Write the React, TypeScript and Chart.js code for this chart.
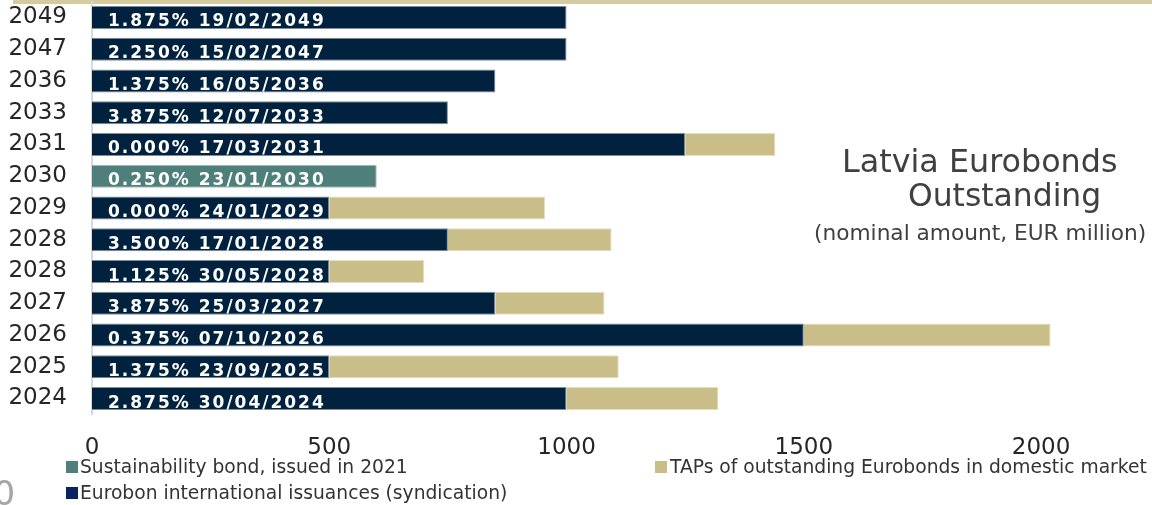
import React, { useEffect, useRef } from 'react';
import { Chart, registerables } from 'chart.js';

Chart.register(...registerables);

const categories = ['2049', '2047', '2036', '2033', '2031', '2030', '2029', '2028', '2028', '2027', '2026', '2025', '2024'];
const couponLabels = [
  '1.875% 19/02/2049',
  '2.250% 15/02/2047',
  '1.375% 16/05/2036',
  '3.875% 12/07/2033',
  '0.000% 17/03/2031',
  '0.250% 23/01/2030',
  '0.000% 24/01/2029',
  '3.500% 17/01/2028',
  '1.125% 30/05/2028',
  '3.875% 25/03/2027',
  '0.375% 07/10/2026',
  '1.375% 23/09/2025',
  '2.875% 30/04/2024',
];
const syndication = [1000, 1000, 850, 750, 1250, null, 500, 750, 500, 850, 1500, 500, 1000];
const sustainability = [null, null, null, null, null, 600, null, null, null, null, null, null, null];
const taps = [null, null, null, null, 190, null, 455, 345, 200, 230, 520, 610, 320];
const xTicks = [0, 500, 1000, 1500, 2000];
const xMin = 0;
const xMax = 2200;

const NAVY = '#00223f';
const TAN = '#c9bd88';
const TEAL = '#4e7f7a';
const FONT = '"DejaVu Sans", Verdana, sans-serif';

const barLabelPlugin = {
  id: 'barLabels',
  afterDatasetsDraw(chart: any) {
    const { ctx, chartArea, scales } = chart;
    ctx.save();
    ctx.font = 'bold 17px "DejaVu Sans"';
    ctx.fillStyle = '#ffffff';
    ctx.textAlign = 'left';
    ctx.textBaseline = 'alphabetic';
    (ctx as any).letterSpacing = '2px';
    couponLabels.forEach((t, i) => {
      const y = scales.y.getPixelForValue(i);
      ctx.fillText(t, chartArea.left + 16, y + 9);
    });
    ctx.restore();
  },
};

export default function App() {
  const canvasRef = useRef<HTMLCanvasElement | null>(null);

  useEffect(() => {
    if (!canvasRef.current) return;
    const chart = new Chart(canvasRef.current, {
      type: 'bar',
      data: {
        labels: categories,
        datasets: [
          {
            label: 'Eurobon international issuances (syndication)',
            data: syndication as any,
            backgroundColor: NAVY,
            borderColor: '#7f8d9c',
            borderWidth: 1,
          },
          {
            label: 'Sustainability bond, issued in 2021',
            data: sustainability as any,
            backgroundColor: TEAL,
            borderColor: '#a5bdb9',
            borderWidth: 1,
          },
          {
            label: 'TAPs of outstanding Eurobonds in domestic market',
            data: taps as any,
            backgroundColor: TAN,
            borderColor: '#e6dfbf',
            borderWidth: 1,
          },
        ],
      },
      options: {
        indexAxis: 'y',
        responsive: false,
        animation: false,
        devicePixelRatio: 1,
        datasets: { bar: { barPercentage: 0.72, categoryPercentage: 1 } } as any,
        layout: { padding: { top: 1.6, right: 16, bottom: 0, left: 0 } },
        plugins: {
          legend: { display: false },
          tooltip: { enabled: false },
          title: { display: false },
        },
        scales: {
          x: {
            stacked: true,
            min: xMin,
            max: xMax,
            grid: { display: false },
            border: { display: false },
            afterBuildTicks: (s: any) => {
              s.ticks = xTicks.map((v) => ({ value: v }));
            },
            ticks: {
              autoSkip: false,
              maxRotation: 0,
              padding: 12,
              color: '#262626',
              font: { family: FONT, size: 23 },
              callback: (v: any) => String(v),
            },
            afterFit: (s: any) => {
              s.height = 45.6;
              s.paddingLeft = 0;
              s.paddingRight = 0;
            },
          },
          y: {
            stacked: true,
            grid: { display: false, drawTicks: false },
            border: { display: true, color: '#d9d9d9', width: 2 },
            ticks: {
              autoSkip: false,
              padding: 25,
              color: '#262626',
              font: { family: FONT, size: 23 },
            },
            afterFit: (s: any) => {
              s.width = 92;
              s.paddingTop = 0;
              s.paddingBottom = 0;
            },
          },
        },
      },
      plugins: [barLabelPlugin],
    });
    return () => chart.destroy();
  }, []);

  const txt: React.CSSProperties = {
    position: 'absolute',
    fontFamily: FONT,
    lineHeight: 1,
    whiteSpace: 'nowrap',
    margin: 0,
  };

  return (
    <div style={{ position: 'absolute', left: 0, top: 0, width: 1152, height: 505, overflow: 'hidden', background: '#ffffff' }}>
      <div style={{ position: 'absolute', left: 13, top: 0, width: 1139, height: 4, background: '#d5cba1' }} />
      <canvas
        ref={canvasRef}
        width={1152}
        height={460}
        style={{ position: 'absolute', left: 0, top: 0, width: 1152, height: 460 }}
      />
      <div style={{ ...txt, left: 842, top: 145, fontSize: 31.8, color: '#404040' }}>Latvia Eurobonds</div>
      <div style={{ ...txt, left: 908, top: 179.5, fontSize: 31.4, color: '#404040' }}>Outstanding</div>
      <div style={{ ...txt, left: 814, top: 222, fontSize: 21.7, color: '#404040' }}>(nominal amount, EUR million)</div>

      <div style={{ position: 'absolute', left: 66, top: 461, width: 12, height: 12, background: TEAL }} />
      <div style={{ ...txt, left: 80, top: 458.3, fontSize: 18.7, color: '#333333' }}>Sustainability bond, issued in 2021</div>
      <div style={{ position: 'absolute', left: 655, top: 461, width: 12, height: 12, background: TAN }} />
      <div style={{ ...txt, left: 670, top: 458.3, fontSize: 18.7, color: '#333333' }}>TAPs of outstanding Eurobonds in domestic market</div>
      <div style={{ position: 'absolute', left: 66, top: 487, width: 12, height: 12, background: '#0a2463' }} />
      <div style={{ ...txt, left: 80, top: 484.3, fontSize: 18.7, color: '#333333' }}>Eurobon international issuances (syndication)</div>

      <div style={{ ...txt, left: -6.4, top: 476, fontSize: 34, color: '#a6a6a6' }}>0</div>
    </div>
  );
}
